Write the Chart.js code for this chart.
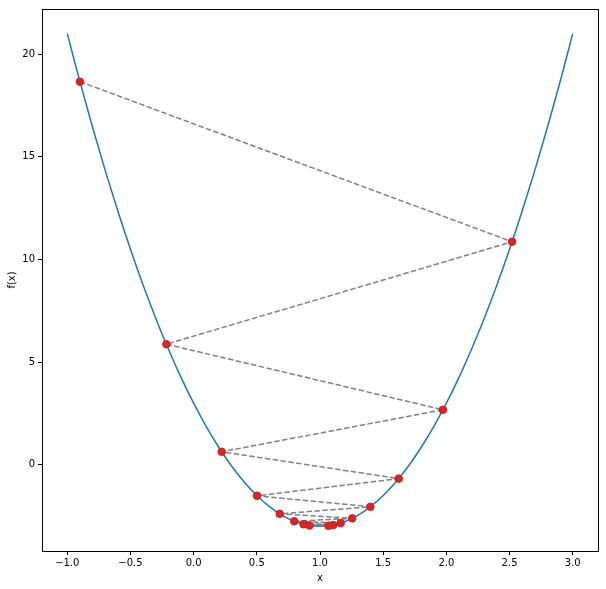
<!DOCTYPE html>
<html>
<head>
<meta charset="utf-8" />
<title>Gradient descent on f(x)</title>
<script src="https://cdn.jsdelivr.net/npm/chart.js@4/dist/chart.umd.min.js"></script>
<style>
  html, body { margin: 0; padding: 0; background: #fff; }
  #wrap { width: 606px; height: 589px; }
</style>
</head>
<body>
<div id="wrap"><canvas id="chart" width="606" height="589"></canvas></div>
<script>
// curve f(x)
var curveX = [-1.0, -0.9, -0.8, -0.7, -0.6, -0.5, -0.4, -0.3, -0.2, -0.1, 0.0,
              0.1, 0.2, 0.3, 0.4, 0.5, 0.6, 0.7, 0.8, 0.9, 1.0,
              1.1, 1.2, 1.3, 1.4, 1.5, 1.6, 1.7, 1.8, 1.9, 2.0,
              2.1, 2.2, 2.3, 2.4, 2.5, 2.6, 2.7, 2.8, 2.9, 3.0];
var curveY = [21.0, 18.66, 16.44, 14.34, 12.36, 10.5, 8.76, 7.14, 5.64, 4.26, 3.0,
              1.86, 0.84, -0.06, -0.84, -1.5, -2.04, -2.46, -2.76, -2.94, -3.0,
              -2.94, -2.76, -2.46, -2.04, -1.5, -0.84, -0.06, 0.84, 1.86, 3.0,
              4.26, 5.64, 7.14, 8.76, 10.5, 12.36, 14.34, 16.44, 18.66, 21.0];

// descent steps
var stepX = [-0.9, 2.52, -0.216, 1.9728, 0.2218, 1.6226, 0.5019, 1.3985, 0.6812, 1.2550,
             0.7960, 1.1632, 0.8694, 1.1045, 0.9164, 1.0669];
var stepY = [18.66, 10.862, 5.872, 2.678, 0.634, -0.674, -1.512, -2.047, -2.390, -2.610,
             -2.750, -2.840, -2.898, -2.935, -2.958, -2.973];

var xTicks = [-1.0, -0.5, 0.0, 0.5, 1.0, 1.5, 2.0, 2.5, 3.0];
var yTicks = [0, 5, 10, 15, 20];

function pts(xs, ys) {
    var out = [];
    for (var i = 0; i < xs.length; i++) out.push({x: xs[i], y: ys[i]});
    return out;
}
function minus(s) { return s.replace('-', '\u2212'); }

var FONT = {family: 'DejaVu Sans', size: 10};

// box round the plot area, like matplotlib spines
var frame = {
    id: 'frame',
    afterDraw: function(chart) {
        var a = chart.chartArea, c = chart.ctx;
        c.save();
        c.strokeStyle = '#000';
        c.lineWidth = 1;
        c.strokeRect(Math.round(a.left) + 0.5, Math.round(a.top) + 0.5,
                     Math.round(a.right - a.left), Math.round(a.bottom - a.top));
        c.restore();
    }
};

new Chart(document.getElementById('chart'), {
    type: 'scatter',
    data: {
        datasets: [
            {
                data: pts(stepX, stepY),
                showLine: false,
                pointRadius: 3.8,
                pointBackgroundColor: '#d62728',
                pointBorderColor: '#c8202a',
                pointBorderWidth: 1
            },
            {
                data: pts(stepX, stepY),
                showLine: true,
                borderColor: '#808080',
                borderWidth: 1.5,
                borderDash: [5.5, 2.4],
                pointRadius: 0
            },
            {
                data: pts(curveX, curveY),
                showLine: true,
                borderColor: '#1f77b4',
                borderWidth: 1.5,
                cubicInterpolationMode: 'monotone',
                pointRadius: 0
            }
        ]
    },
    options: {
        responsive: false,
        animation: false,
        layout: {padding: {top: 8, right: 8, left: 0, bottom: 0}},
        plugins: {legend: {display: false}, tooltip: {enabled: false}},
        scales: {
            x: {
                type: 'linear',
                min: -1.2,
                max: 3.2,
                afterBuildTicks: function(s) { s.ticks = xTicks.map(function(v) { return {value: v}; }); },
                afterFit: function(s) { s.height = 38; },
                grid: {drawOnChartArea: false, drawTicks: true, tickLength: 4, color: '#000'},
                border: {display: false},
                ticks: {
                    font: FONT, color: '#000', padding: 2, maxRotation: 0,
                    callback: function(v) { return minus(Number(v).toFixed(1)); }
                },
                title: {display: true, text: 'x', font: FONT, color: '#000', padding: {top: 0, bottom: 5}}
            },
            y: {
                type: 'linear',
                min: -4.2,
                max: 22.2,
                afterBuildTicks: function(s) { s.ticks = yTicks.map(function(v) { return {value: v}; }); },
                afterFit: function(s) { s.width = 42; },
                grid: {drawOnChartArea: false, drawTicks: true, tickLength: 4, color: '#000'},
                border: {display: false},
                ticks: {
                    font: FONT, color: '#000', padding: 3,
                    callback: function(v) { return minus(String(v)); }
                },
                title: {display: true, text: 'f(x)', font: FONT, color: '#000', padding: {top: 6, bottom: 0}}
            }
        }
    },
    plugins: [frame]
});
</script>
</body>
</html>
